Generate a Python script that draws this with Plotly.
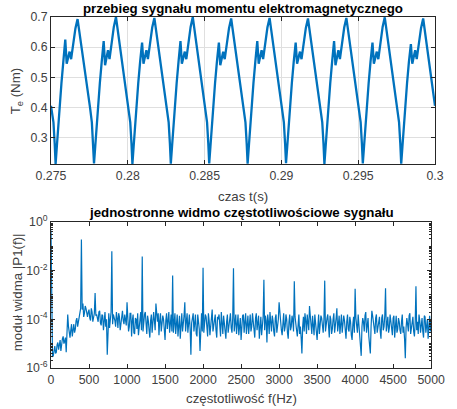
import plotly.graph_objects as go

# ---------------- data: electromagnetic torque signal ----------------
czas_s = [
    0.27500, 0.27516, 0.27524,
    0.27530, 0.27538, 0.27546, 0.27555, 0.27568, 0.27580, 0.27593, 0.27602, 0.27612, 0.27621, 0.27631, 0.27647, 0.27659, 0.27673, 0.27684, 0.27700, 0.27719, 0.27738, 0.27754, 0.27766, 0.27774,
    0.27780, 0.27788, 0.27796, 0.27805, 0.27818, 0.27830, 0.27843, 0.27852, 0.27862, 0.27871, 0.27881, 0.27897, 0.27909, 0.27923, 0.27934, 0.27950, 0.27969, 0.27988, 0.28004, 0.28016, 0.28024,
    0.28030, 0.28038, 0.28046, 0.28055, 0.28068, 0.28080, 0.28093, 0.28102, 0.28112, 0.28121, 0.28131, 0.28147, 0.28159, 0.28173, 0.28184, 0.28200, 0.28219, 0.28238, 0.28254, 0.28266, 0.28274,
    0.28280, 0.28288, 0.28296, 0.28305, 0.28318, 0.28330, 0.28343, 0.28352, 0.28362, 0.28371, 0.28381, 0.28397, 0.28409, 0.28423, 0.28434, 0.28450, 0.28469, 0.28488, 0.28504, 0.28516, 0.28524,
    0.28530, 0.28538, 0.28546, 0.28555, 0.28568, 0.28580, 0.28593, 0.28602, 0.28612, 0.28621, 0.28631, 0.28647, 0.28659, 0.28673, 0.28684, 0.28700, 0.28719, 0.28738, 0.28754, 0.28766, 0.28774,
    0.28780, 0.28788, 0.28796, 0.28805, 0.28818, 0.28830, 0.28843, 0.28852, 0.28862, 0.28871, 0.28881, 0.28897, 0.28909, 0.28923, 0.28934, 0.28950, 0.28969, 0.28988, 0.29004, 0.29016, 0.29024,
    0.29030, 0.29038, 0.29046, 0.29055, 0.29068, 0.29080, 0.29093, 0.29102, 0.29112, 0.29121, 0.29131, 0.29147, 0.29159, 0.29173, 0.29184, 0.29200, 0.29219, 0.29238, 0.29254, 0.29266, 0.29274,
    0.29280, 0.29288, 0.29296, 0.29305, 0.29318, 0.29330, 0.29343, 0.29352, 0.29362, 0.29371, 0.29381, 0.29397, 0.29409, 0.29423, 0.29434, 0.29450, 0.29469, 0.29488, 0.29504, 0.29516, 0.29524,
    0.29530, 0.29538, 0.29546, 0.29555, 0.29568, 0.29580, 0.29593, 0.29602, 0.29612, 0.29621, 0.29631, 0.29647, 0.29659, 0.29673, 0.29684, 0.29700, 0.29719, 0.29738, 0.29754, 0.29766, 0.29774,
    0.29780, 0.29788, 0.29796, 0.29805, 0.29818, 0.29830, 0.29843, 0.29852, 0.29862, 0.29871, 0.29881, 0.29897, 0.29909, 0.29923, 0.29934, 0.29950, 0.29969, 0.29988, 0.30000,
]
moment_Nm = [
    0.405, 0.35, 0.28,
    0.212, 0.27, 0.33, 0.40, 0.48, 0.55, 0.625, 0.545, 0.565, 0.585, 0.56, 0.62, 0.662, 0.693, 0.655, 0.597, 0.528, 0.459, 0.40, 0.35, 0.28,
    0.214, 0.27, 0.33, 0.40, 0.48, 0.55, 0.620, 0.540, 0.565, 0.590, 0.56, 0.62, 0.667, 0.700, 0.658, 0.597, 0.528, 0.459, 0.40, 0.35, 0.28,
    0.212, 0.27, 0.33, 0.40, 0.48, 0.55, 0.615, 0.545, 0.565, 0.590, 0.56, 0.62, 0.665, 0.697, 0.655, 0.597, 0.528, 0.459, 0.40, 0.35, 0.28,
    0.213, 0.27, 0.33, 0.40, 0.48, 0.55, 0.620, 0.545, 0.565, 0.585, 0.56, 0.62, 0.667, 0.700, 0.658, 0.597, 0.528, 0.459, 0.40, 0.35, 0.28,
    0.214, 0.27, 0.33, 0.40, 0.48, 0.55, 0.615, 0.540, 0.565, 0.585, 0.56, 0.62, 0.663, 0.695, 0.655, 0.597, 0.528, 0.459, 0.40, 0.35, 0.28,
    0.213, 0.27, 0.33, 0.40, 0.48, 0.55, 0.620, 0.545, 0.565, 0.590, 0.56, 0.62, 0.665, 0.697, 0.655, 0.597, 0.528, 0.459, 0.40, 0.35, 0.28,
    0.215, 0.27, 0.33, 0.40, 0.48, 0.55, 0.615, 0.545, 0.565, 0.585, 0.56, 0.62, 0.663, 0.695, 0.655, 0.597, 0.528, 0.459, 0.40, 0.35, 0.28,
    0.212, 0.27, 0.33, 0.40, 0.48, 0.55, 0.620, 0.540, 0.565, 0.590, 0.56, 0.62, 0.665, 0.697, 0.655, 0.597, 0.528, 0.459, 0.40, 0.35, 0.28,
    0.214, 0.27, 0.33, 0.40, 0.48, 0.55, 0.615, 0.545, 0.565, 0.585, 0.56, 0.62, 0.667, 0.699, 0.657, 0.597, 0.528, 0.459, 0.40, 0.35, 0.28,
    0.213, 0.27, 0.33, 0.40, 0.48, 0.55, 0.610, 0.545, 0.565, 0.590, 0.56, 0.62, 0.663, 0.695, 0.655, 0.597, 0.528, 0.459, 0.405,
]

# ---------------- data: one-sided amplitude spectrum (log10 of |P1(f)|) ----------------
czestotliwosc_Hz = list(range(0, 5001, 10))
widmo_log10 = [
    -0.35, -5.0, -5.55, -5.5, -5.2, -5.1, -5.4, -5.35, -5.05, -4.95, -5.25, -5.1, -4.85, -5.3, -4.95, -4.8, -4.7, -5.0, -4.9, -4.75,
    -5.35, -4.55, -3.8, -4.3, -4.6, -4.75, -4.45, -4.2, -4.7, -4.35, -4.2, -4.55, -4.4, -4.05, -3.95, -4.3, -4.15, -3.9, -3.7, -3.55,
    -0.72, -3.6, -3.35, -3.9, -3.75, -3.45, -3.55, -3.8, -3.9, -3.7, -3.6, -3.95, -4.05, -3.55, -3.7, -4.1, -3.95, -3.75, -2.92, -3.85,
    -3.8, -3.95, -4.1, -3.7, -3.65, -4.15, -4.25, -3.8, -3.85, -4.45, -3.95, -3.7, -4.3, -4.0, -5.45, -4.15, -3.75, -4.35, -3.9, -3.7,
    -1.2, -4.2, -3.8, -3.9, -4.05, -4.3, -3.7, -3.95, -4.35, -3.75, -3.9, -4.45, -4.1, -3.85, -3.65, -4.05, -4.2, -3.8, -3.95, -4.25,
    -3.3, -4.0, -4.5, -4.3, -3.75, -3.75, -4.7, -4.05, -3.8, -4.55, -4.6, -3.95, -4.0, -4.4, -3.75, -4.65, -4.3, -3.9, -3.7, -4.45,
    -1.42, -4.5, -4.0, -3.8, -3.7, -4.1, -4.6, -3.85, -4.05, -4.45, -4.75, -4.05, -3.8, -4.55, -4.2, -3.7, -4.05, -4.45, -3.35, -3.95,
    -4.1, -3.75, -4.65, -4.05, -3.75, -4.5, -4.25, -3.85, -4.0, -4.6, -4.85, -4.05, -3.75, -4.4, -4.15, -3.7, -4.55, -4.1, -3.8, -4.5,
    -2.2, -4.55, -4.05, -3.75, -4.6, -4.1, -3.8, -4.7, -4.25, -3.85, -4.8, -4.1, -3.75, -4.5, -4.2, -3.85, -3.3, -4.5, -4.1, -3.75,
    -4.55, -4.0, -3.8, -4.4, -5.45, -4.15, -3.9, -3.75, -4.5, -4.2, -3.8, -4.6, -4.7, -3.8, -4.1, -4.4, -5.3, -4.05, -3.75, -4.5,
    -1.88, -4.55, -4.2, -3.8, -3.9, -4.3, -4.7, -3.75, -4.05, -4.65, -4.3, -3.9, -3.6, -4.5, -4.2, -3.95, -3.8, -4.45, -4.75, -3.9,
    -4.0, -3.8, -4.45, -4.7, -3.7, -4.05, -4.6, -3.85, -4.1, -4.5, -4.8, -4.1, -3.8, -4.55, -4.2, -3.8, -3.75, -4.35, -4.55, -3.95,
    -1.9, -4.5, -4.1, -3.8, -4.6, -4.3, -3.8, -4.65, -4.2, -3.95, -4.85, -4.3, -3.85, -3.8, -4.55, -4.1, -3.75, -4.6, -4.2, -3.85,
    -4.6, -4.1, -3.8, -4.5, -4.3, -3.75, -4.05, -4.55, -4.75, -3.95, -3.75, -4.45, -4.2, -3.85, -4.8, -4.3, -3.9, -4.65, -4.3, -3.9,
    -2.37, -4.45, -3.85, -4.05, -4.95, -3.8, -4.1, -4.6, -3.7, -4.25, -4.5, -3.85, -4.05, -4.5, -4.7, -3.95, -3.8, -4.55, -4.3, -4.0,
    -3.3, -3.85, -4.2, -4.45, -4.65, -4.0, -3.75, -4.5, -4.3, -3.8, -4.0, -4.55, -4.8, -4.1, -3.8, -4.45, -4.3, -3.85, -4.05, -4.5,
    -2.44, -3.9, -4.3, -4.45, -4.7, -4.1, -3.8, -4.6, -4.3, -4.75, -5.4, -4.3, -3.9, -4.5, -3.75, -4.05, -4.6, -3.8, -4.2, -4.45,
    -3.45, -4.0, -4.35, -4.6, -3.85, -4.2, -4.65, -3.8, -4.05, -4.5, -4.85, -4.0, -3.8, -4.6, -4.3, -3.85, -3.95, -4.4, -4.55, -4.0,
    -2.41, -4.5, -4.1, -3.95, -3.8, -4.4, -4.75, -3.85, -4.0, -4.6, -4.4, -4.0, -3.75, -4.55, -4.3, -3.95, -3.55, -4.5, -4.2, -3.85,
    -4.6, -4.2, -3.8, -4.55, -4.3, -3.85, -4.05, -4.5, -4.8, -4.1, -3.8, -4.4, -4.5, -3.9, -4.1, -4.65, -4.85, -4.2, -3.9, -4.55,
    -2.74, -3.95, -4.3, -4.55, -3.8, -4.15, -4.65, -4.9, -5.5, -4.3, -3.95, -4.1, -4.5, -3.85, -3.7, -4.55, -4.3, -3.95, -4.7, -5.0,
    -5.4, -4.3, -3.65, -3.85, -4.2, -4.5, -4.6, -3.95, -3.8, -4.55, -4.35, -4.1, -3.9, -4.5, -4.8, -3.95, -3.8, -4.45, -4.3, -3.85,
    -2.72, -4.5, -4.05, -3.9, -4.55, -4.35, -3.8, -4.1, -4.35, -4.65, -3.95, -3.85, -4.75, -4.25, -3.85, -4.55, -4.4, -3.95, -4.1, -4.45,
    -4.6, -4.1, -3.8, -4.55, -4.3, -4.8, -5.6, -4.35, -3.95, -4.2, -4.5, -3.85, -3.75, -4.6, -4.35, -3.95, -3.9, -4.5, -4.7, -4.15,
    -2.64, -4.45, -4.1, -4.6, -3.8, -4.05, -4.55, -4.25, -3.95, -4.5, -4.75, -3.85, -3.9, -4.55, -4.3, -4.0, -4.8, -4.3, -3.85, -4.5,
    -4.1,
]
widmo = [10 ** v for v in widmo_log10]

# ---------------- tick labels ----------------
t_ticks = [0.275, 0.28, 0.285, 0.29, 0.295, 0.3]
t_ticktext = ["0.275", "0.28", "0.285", "0.29", "0.295", "0.3"]
te_ticks = [0.3, 0.4, 0.5, 0.6, 0.7]
te_ticktext = ["0.3", "0.4", "0.5", "0.6", "0.7"]
f_ticks = [0, 500, 1000, 1500, 2000, 2500, 3000, 3500, 4000, 4500, 5000]
f_ticktext = [str(v) for v in f_ticks]
p_ticks = [1e-6, 1e-4, 1e-2, 1e0]
p_ticktext = ["10<sup>-6</sup>", "10<sup>-4</sup>", "10<sup>-2</sup>", "10<sup>0</sup>"]

BLUE = "#0072BD"
AX = "#262626"
TXT = "#404040"
FONT = "Liberation Sans, Arial, sans-serif"

fig = go.Figure()
fig.add_trace(go.Scatter(x=czas_s, y=moment_Nm, mode="lines",
                         line=dict(color=BLUE, width=2.3), xaxis="x", yaxis="y"))
fig.add_trace(go.Scatter(x=czestotliwosc_Hz, y=widmo, mode="lines",
                         line=dict(color=BLUE, width=1.2), xaxis="x2", yaxis="y2"))

common = dict(ticks="inside", ticklen=4, tickcolor=AX, showline=True, linecolor=AX,
              linewidth=1, mirror="ticks", zeroline=False, ticklabeloverflow="allow",
              tickfont=dict(size=12.3, color=TXT, family=FONT))

minor_vals = [k * 10 ** n for n in range(-6, 0) for k in range(1, 10)]

fig.update_layout(
    width=457, height=409,
    margin=dict(l=51, r=8, t=17, b=41),
    paper_bgcolor="white", plot_bgcolor="white",
    showlegend=False,
    font=dict(family=FONT, color=TXT),
    xaxis=dict(domain=[0, 1], anchor="y", range=[0.275, 0.3], tickmode="array",
               tickvals=t_ticks, ticktext=t_ticktext, showgrid=True,
               gridcolor="#dfdfdf", gridwidth=1, **common),
    yaxis=dict(domain=[0.5812, 1], anchor="x", range=[0.212, 0.7], tickmode="array",
               tickvals=te_ticks, ticktext=te_ticktext, showgrid=True,
               gridcolor="#dfdfdf", gridwidth=1, **common),
    xaxis2=dict(domain=[0, 0.99], anchor="y2", range=[0, 5000], tickmode="array",
                tickvals=f_ticks, ticktext=f_ticktext, showgrid=False, **common),
    yaxis2=dict(domain=[0, 0.416], anchor="x2", type="log", range=[-6, 0],
                tickmode="array", tickvals=p_ticks, ticktext=p_ticktext, showgrid=False,
                minor=dict(tickmode="array", tickvals=minor_vals, ticks="inside",
                           ticklen=2, tickcolor=AX, showgrid=False),
                **common),
)

ann_font = dict(family=FONT, size=13.3, color=TXT)
title_font = dict(family=FONT, size=13.3, color="#000000")
fig.add_annotation(text="<b>przebieg sygnału momentu elektromagnetycznego</b>",
                   x=0.5, y=1.0256, xref="paper", yref="paper", showarrow=False,
                   xanchor="center", yanchor="middle", font=title_font)
fig.add_annotation(text="czas t(s)", x=0.5, y=0.49, xref="paper", yref="paper",
                   showarrow=False, xanchor="center", yanchor="middle", font=ann_font)
fig.add_annotation(text="T<sub>e</sub> (Nm)", x=-0.0905, y=0.789, xref="paper", yref="paper",
                   showarrow=False, xanchor="center", yanchor="middle", textangle=-90,
                   font=ann_font)
fig.add_annotation(text="<b>jednostronne widmo częstotliwościowe sygnału</b>",
                   x=0.495, y=0.4444, xref="paper", yref="paper", showarrow=False,
                   xanchor="center", yanchor="middle", font=title_font)
fig.add_annotation(text="częstotliwość f(Hz)", x=0.495, y=-0.0883, xref="paper", yref="paper",
                   showarrow=False, xanchor="center", yanchor="middle", font=ann_font)
fig.add_annotation(text="moduł widma |P1(f)|", x=-0.088, y=0.2165, xref="paper", yref="paper",
                   showarrow=False, xanchor="center", yanchor="middle", textangle=-90,
                   font=ann_font)

fig.write_html("out.html", config={"displayModeBar": False},
               post_script="document.body.style.margin='0';document.body.style.overflow='hidden';")
